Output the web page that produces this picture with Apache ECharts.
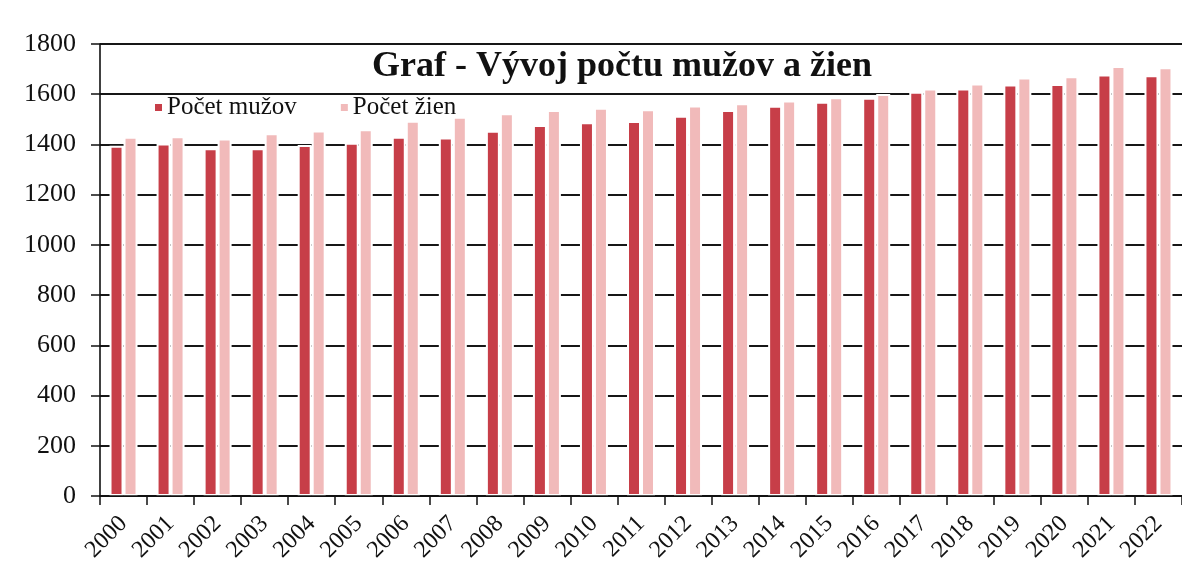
<!DOCTYPE html>
<html>
<head>
<meta charset="utf-8">
<script src="https://cdn.jsdelivr.net/npm/echarts@6/dist/echarts.min.js"></script>
<style>html,body{margin:0;padding:0;background:#fff;}#c{width:1182px;height:567px;}</style>
</head>
<body>
<div id="c"></div>
<script>
const years = ['2000','2001','2002','2003','2004','2005','2006','2007','2008','2009','2010','2011','2012','2013','2014','2015','2016','2017','2018','2019','2020','2021','2022'];
const muzi = [1395,1404,1385,1385,1398,1407,1431,1428,1455,1477,1488,1493,1514,1537,1554,1570,1586,1610,1623,1639,1641,1679,1676];
const zeny = [1431,1433,1424,1445,1456,1461,1494,1510,1524,1537,1546,1540,1555,1564,1575,1588,1601,1623,1643,1667,1672,1712,1707];
const yTicks = [0,200,400,600,800,1000,1200,1400,1600,1800];
const titleText = 'Graf - Vývoj počtu mužov a žien';
const seriesNames = ['Počet mužov','Počet žien'];

const chart = echarts.init(document.getElementById('c'), null, {renderer:'canvas'});
const serif = '"Liberation Serif", "DejaVu Serif", serif';
chart.setOption({
  animation: false,
  backgroundColor: '#fff',
  title: {
    text: titleText,
    left: 617, textAlign: 'center', top: 44,
    textStyle: {fontFamily: serif, fontWeight: 'bold', fontSize: 36, color: '#111'}
  },
  legend: {
    left: 148, top: 90,
    itemWidth: 9, itemHeight: 9, itemGap: 42,
    icon: 'rect',
    textStyle: {fontFamily: serif, fontSize: 25, color: '#111', padding: [0,0,0,-1]},
    data: seriesNames
  },
  grid: {left: 100, right: 0, top: 44, bottom: 71, containLabel: false},
  xAxis: {
    type: 'category',
    data: years,
    boundaryGap: true,
    z: 5,
    axisLine: {lineStyle: {color: '#111', width: 1.6}},
    axisTick: {show: true, length: 9, lineStyle: {color: '#111', width: 1.5}},
    axisLabel: {rotate: 45, fontFamily: serif, fontSize: 24, color: '#111', margin: 24, interval: 0}
  },
  yAxis: {
    type: 'value',
    min: 0, max: 1800, interval: 200,
    axisLine: {show: true, lineStyle: {color: '#111', width: 1.6}},
    axisTick: {show: true, length: 9, lineStyle: {color: '#111', width: 1.5}},
    axisLabel: {fontFamily: serif, fontSize: 26, color: '#111', margin: 24,
      formatter: v => yTicks.includes(v) ? String(v) : ''},
    splitLine: {show: true, lineStyle: {color: '#161616', width: 1.8}}
  },
  series: [
    {
      name: seriesNames[0], type: 'bar', data: muzi,
      barWidth: 14, barGap: '0%',
      itemStyle: {color: '#c73e48', borderColor: '#fff', borderWidth: 2}
    },
    {
      name: seriesNames[1], type: 'bar', data: zeny,
      barWidth: 14,
      itemStyle: {color: '#f1baba', borderColor: '#fff', borderWidth: 2}
    }
  ]
});
</script>
</body>
</html>
